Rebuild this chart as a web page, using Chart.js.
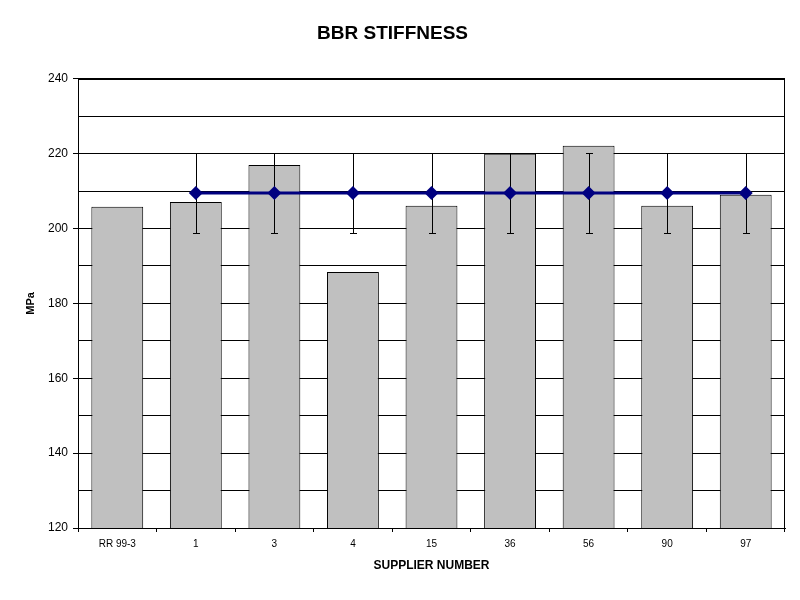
<!DOCTYPE html>
<html>
<head>
<meta charset="utf-8">
<script src="https://cdn.jsdelivr.net/npm/chart.js@4/dist/chart.umd.min.js"></script>
<style>
  html, body { margin: 0; padding: 0; background: #fff; }
  #wrap { width: 800px; height: 600px; }
</style>
</head>
<body>
<div id="wrap"><canvas id="c" width="800" height="600"></canvas></div>
<script>
const categories = ['RR 99-3', '1', '3', '4', '15', '36', '56', '90', '97'];
const stiffness = [205.8, 207.1, 217.0, 188.4, 206.1, 220.0, 222.1, 206.1, 209.0];
const meanLine = [null, 209.5, 209.5, 209.5, 209.5, 209.5, 209.5, 209.5, 209.5];
const errPlus = [null, 10.6, 10.6, 10.6, 10.6, 10.6, 10.6, 10.6, 10.6];
const errMinus = [null, 10.6, 10.6, 10.6, 10.6, 10.6, 10.6, 10.6, 10.6];
const yTickValues = [120, 140, 160, 180, 200, 220, 240];

const FONT = 'Arial, "Liberation Sans", sans-serif';

const errorBarPlugin = {
  id: 'errorBars',
  afterDatasetDraw(chart, args) {
    if (args.index !== 0) return;
    const ctx = chart.ctx;
    const x = chart.scales.x, y = chart.scales.y;
    ctx.save();
    ctx.strokeStyle = '#000';
    ctx.lineWidth = 1;
    meanLine.forEach((v, i) => {
      if (v === null) return;
      const px = Math.round(x.getPixelForValue(i)) + 0.5;
      const yHi = Math.round(y.getPixelForValue(v + errPlus[i])) + 0.5;
      const yLo = Math.round(y.getPixelForValue(v - errMinus[i])) + 0.5;
      ctx.beginPath();
      ctx.moveTo(px, yHi); ctx.lineTo(px, yLo);
      ctx.moveTo(px - 3.5, yHi); ctx.lineTo(px + 3.5, yHi);
      ctx.moveTo(px - 3.5, yLo); ctx.lineTo(px + 3.5, yLo);
      ctx.stroke();
    });
    ctx.restore();
  }
};

const framePlugin = {
  id: 'frame',
  afterDraw(chart) {
    const a = chart.chartArea;
    const ctx = chart.ctx;
    ctx.save();
    ctx.strokeStyle = '#000';
    ctx.lineWidth = 1;
    ctx.strokeRect(Math.round(a.left) + 0.5, Math.round(a.top) + 0.5,
                   Math.round(a.right - a.left) - 1, Math.round(a.bottom - a.top));
    ctx.restore();
  }
};

new Chart(document.getElementById('c'), {
  data: {
    labels: categories,
    datasets: [
      {
        type: 'bar',
        data: stiffness,
        backgroundColor: '#c0c0c0',
        borderColor: '#000',
        borderWidth: 1,
        categoryPercentage: 1,
        barPercentage: 0.66,
        order: 1
      },
      {
        type: 'line',
        data: meanLine,
        borderColor: '#000080',
        borderWidth: 3,
        pointStyle: 'rectRot',
        pointRadius: 7,
        pointBackgroundColor: '#000080',
        pointBorderColor: '#000080',
        pointBorderWidth: 0,
        spanGaps: false,
        order: 0
      }
    ]
  },
  options: {
    responsive: false,
    animation: false,
    layout: { padding: { left: 0, right: 15, top: 0, bottom: 0 } },
    plugins: {
      legend: { display: false },
      tooltip: { enabled: false },
      title: {
        display: true,
        text: 'BBR STIFFNESS',
        color: '#000',
        font: { family: FONT, size: 19, weight: 'bold' },
        padding: { top: 22, bottom: 34 }
      }
    },
    scales: {
      x: {
        afterFit(s) { s.height = 72; },
        grid: {
          offset: true,
          drawOnChartArea: false,
          drawTicks: true,
          tickLength: 4,
          color: '#000',
          tickColor: '#000'
        },
        border: { display: true, color: '#000', width: 1 },
        ticks: {
          color: '#000',
          font: { family: FONT, size: 10 },
          padding: 6,
          maxRotation: 0,
          autoSkip: false
        },
        title: {
          display: true,
          text: 'SUPPLIER NUMBER',
          color: '#000',
          font: { family: FONT, size: 12, weight: 'bold' },
          padding: { top: 0, bottom: 27 }
        }
      },
      y: {
        min: 120,
        max: 240,
        afterFit(s) { s.width = 78; },
        afterBuildTicks(s) {
          const t = [];
          for (let v = 120; v <= 240; v += 10) t.push({ value: v });
          s.ticks = t;
        },
        grid: {
          color: '#000',
          lineWidth: 1,
          tickLength: 5,
          tickColor: (c) => (c.tick && yTickValues.includes(c.tick.value)) ? '#000' : 'rgba(0,0,0,0)'
        },
        border: { display: true, color: '#000', width: 1 },
        ticks: {
          color: '#000',
          font: { family: FONT, size: 12 },
          padding: 5,
          callback: (v) => yTickValues.includes(v) ? String(v) : ''
        },
        title: {
          display: true,
          text: 'MPa',
          color: '#000',
          font: { family: FONT, size: 11, weight: 'bold' },
          padding: { top: 24, bottom: 0 }
        }
      }
    }
  },
  plugins: [errorBarPlugin, framePlugin]
});
</script>
</body>
</html>
